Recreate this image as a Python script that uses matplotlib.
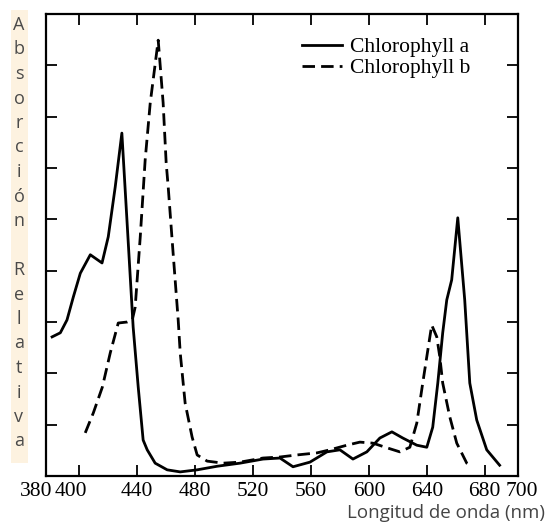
import matplotlib
matplotlib.use("Agg")
import matplotlib.pyplot as plt
import matplotlib.patches as patches
import matplotlib.transforms as mtransforms

# Chlorophyll a (solid)
wl_a = [381.2, 386.9, 391.5, 395.9, 400.7, 407.6, 415.7, 420.0, 424.8, 429.4,
        432.9, 437.2, 440.7, 444.1, 446.9, 452.4, 460.7, 469.7, 481.4, 495.2,
        511.0, 526.9, 538.6, 547.6, 559.3, 571.0, 580.0, 589.0, 598.6, 607.6,
        615.9, 623.4, 633.1, 640.0, 644.1, 647.6, 651.0, 653.8, 657.2, 661.4,
        666.2, 669.7, 674.5, 681.4, 690.3]
abs_a = [2.71, 2.79, 3.04, 3.49, 3.95, 4.31, 4.15, 4.66, 5.63, 6.68,
         4.99, 2.90, 1.73, 0.70, 0.51, 0.25, 0.12, 0.08, 0.12, 0.19,
         0.25, 0.33, 0.35, 0.18, 0.27, 0.47, 0.51, 0.33, 0.47, 0.74,
         0.86, 0.74, 0.60, 0.56, 0.95, 1.81, 2.79, 3.43, 3.82, 5.03,
         3.43, 1.81, 1.09, 0.51, 0.21]

# Chlorophyll b (dashed)
wl_b = [404.1, 409.7, 415.9, 421.4, 426.9, 433.1, 436.6, 438.6, 442.1, 445.5,
        449.0, 454.5, 457.9, 460.0, 461.4, 464.8, 468.3, 469.7, 473.1, 477.9,
        481.4, 488.3, 499.3, 511.0, 526.9, 538.6, 550.3, 564.1, 573.1, 584.8,
        593.8, 602.8, 612.4, 621.4, 628.3, 633.1, 637.2, 640.7, 643.4, 646.9,
        649.0, 651.0, 655.9, 660.7, 667.6, 671.0]
abs_b = [0.84, 1.23, 1.73, 2.40, 2.98, 3.00, 3.04, 3.29, 4.66, 6.16,
         7.27, 8.49, 7.27, 6.10, 5.63, 4.34, 3.04, 2.40, 1.42, 0.76,
         0.41, 0.29, 0.25, 0.27, 0.35, 0.37, 0.41, 0.45, 0.51, 0.60,
         0.66, 0.64, 0.55, 0.47, 0.56, 1.03, 1.81, 2.45, 2.94, 2.71,
         2.32, 1.81, 1.15, 0.64, 0.25, 0.18]

major_x = [400, 440, 480, 520, 560, 600, 640, 680]
y_ticks = [1, 2, 3, 4, 5, 6, 7, 8]
ylabel = "Absorción Relativa"
xlabel = "Longitud de onda (nm)"
serif = "Liberation Serif"

fig = plt.figure(figsize=(5.5, 5.25), dpi=100)
ax = fig.add_axes([46/550, 49/525, 472/550, 462/525])

ax.plot(wl_a, abs_a, color="black", lw=2.0, label="Chlorophyll a")
ax.plot(wl_b, abs_b, color="black", lw=2.0, linestyle=(0, (4.5, 2.2)),
        label="Chlorophyll b")

ax.set_xlim(377, 703)
ax.set_ylim(0, 9)

ax.set_xticks(major_x)
ax.set_xticklabels([str(v) for v in major_x], fontfamily=serif, fontsize=15.5)
ax.set_yticks(y_ticks)
ax.set_yticklabels([])
ax.tick_params(axis="both", which="major", direction="in", length=8, width=1.3,
               top=True, right=True, pad=4)
for s in ax.spines.values():
    s.set_linewidth(1.6)

# the 400 label sits a bit left of its tick in the original
lab400 = ax.get_xticklabels()[0]
lab400.set_transform(lab400.get_transform() +
                     mtransforms.ScaledTranslation(-8/100, 0, fig.dpi_scale_trans))

# end labels without tick marks
xt = mtransforms.blended_transform_factory(ax.transData, ax.transAxes)
first = ax.get_xticklabels()[1]
for v, xpos in [(380, 370.3), (700, 705.5)]:
    ax.text(xpos, 0, str(v), transform=xt + mtransforms.ScaledTranslation(0, -6/100, fig.dpi_scale_trans),
            ha="center", va="top", fontfamily=serif, fontsize=15.5, clip_on=False)

leg = ax.legend(loc="upper left", bbox_to_anchor=(0.542, 0.95), frameon=False,
                prop={"family": serif, "size": 15.5},
                handlelength=1.85, handletextpad=0.37, labelspacing=0.05,
                borderaxespad=0, borderpad=0)

# vertical stacked y label on a pale strip
fig.patches.append(patches.Rectangle((11/550, 1 - 463/525), 17/550, 453/525,
                                     transform=fig.transFigure,
                                     facecolor="#fdf2e0", edgecolor="none"))
for i, ch in enumerate(ylabel):
    if ch == " ":
        continue
    fig.text(19/550, 1 - (25 + i*24.5)/525, ch, ha="center", va="center",
             fontsize=13, color="#4a4a4a", fontfamily="Open Sans")

fig.text(545/550, 1 - 513/525, xlabel, ha="right", va="center",
         fontsize=13.5, color="#444444", fontfamily="Open Sans")

fig.savefig("out.png", dpi=100)
